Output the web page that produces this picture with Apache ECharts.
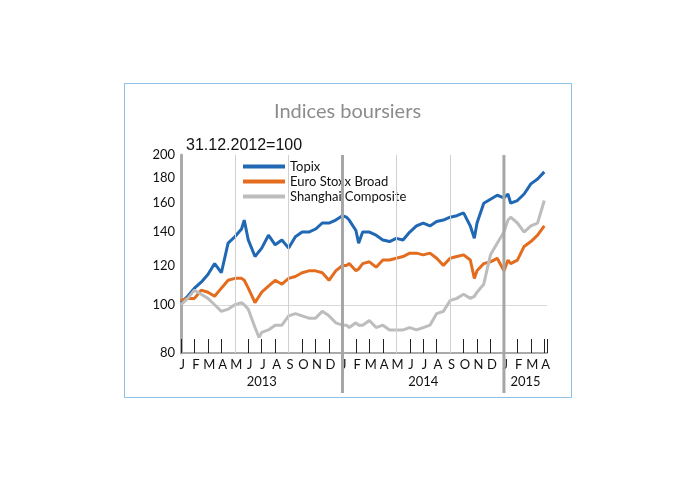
<!DOCTYPE html>
<html>
<head>
<meta charset="utf-8">
<script src="https://cdn.jsdelivr.net/npm/echarts@6/dist/echarts.min.js"></script>
<style>
body{margin:0;background:#fff;}
#box{position:absolute;left:124px;top:83px;width:446px;height:313px;border:1px solid #8fc3e6;}
#chart{position:absolute;left:0;top:0;width:695px;height:483px;}
</style>
</head>
<body>
<div id="box"></div>
<div id="chart"></div>
<script>
// time in months since 31.12.2012
var months = [0,0.5,1,1.5,2,2.5,3,3.5,4,4.5,4.7,5,5.5,5.8,6,6.5,7,7.5,8,8.5,9,9.5,10,10.5,11,11.5,12,12.3,12.5,13,13.2,13.5,14,14.5,15,15.5,16,16.5,17,17.5,18,18.5,19,19.5,20,20.5,21,21.5,21.8,22,22.5,23,23.5,24,24.3,24.5,25,25.5,26,26.5,27];
var topix = [101,104,108,111,115,121,116,133,137,142,148,135,125,128,130,138,132,135,130,137,140,140,142,146,146,148,151,150,148,141,133,140,140,138,135,134,136,135,140,144,146,144,147,148,150,151,153,144,136,146,160,163,166,164,167,160,162,167,175,179,185];
var euro = [102,103,103,107,106,104,108,112,113,113,112,108,101,104,106,109,112,110,113,114,116,117,117,116,112,117,120,120,121,117,118,121,122,119,123,123,124,125,127,127,126,127,124,120,124,125,126,123,113,117,121,122,124,117,123,121,123,131,134,138,144];
var shanghai = [100,103,107,105,103,100,97,98,100,101,100,98,90,86,88,89,91,91,95,96,95,94,94,97,95,92,91,91,90,92,91,91,93,90,91,89,89,89,90,89,90,91,96,97,102,103,105,103,104,106,110,126,133,140,148,150,146,140,144,146,162];
var monthLetters = ['J','F','M','A','M','J','J','A','S','O','N','D','J','F','M','A','M','J','J','A','S','O','N','D','J','F','M','A'];
var years = [{t:6,label:'2013'},{t:18,label:'2014'},{t:25.6,label:'2015'}];
var yTicks = [80,100,120,140,160,180,200];

function pts(v){ return months.map(function(t,i){ return [t, v[i]]; }); }

var chart = echarts.init(document.getElementById('chart'));
var font = 'Lato, "Open Sans", sans-serif';
var gridLines = [4,8,16,20].map(function(x){ return {xAxis:x, lineStyle:{color:'#d0d0d0',width:1,type:'solid'}}; });

chart.setOption({
	animation:false,
	title:[{text:'Indices boursiers',left:'center',top:97,textStyle:{color:'#8c8c8c',fontSize:20,fontWeight:'normal',fontFamily:font}},
		{text:'31.12.2012=100',left:181,top:133,textStyle:{color:'#111',fontSize:16,fontWeight:'normal',fontFamily:'Arial, Liberation Sans, sans-serif'}}],
	legend:{left:238,top:155,orient:'vertical',itemGap:2,itemWidth:42,itemHeight:4,icon:'rect',
		textStyle:{fontSize:13,color:'#111',fontFamily:font},
		data:['Topix','Euro Stoxx Broad','Shanghai Composite']},
	grid:{left:181,right:148,top:155,bottom:130},
	xAxis:{type:'value',min:0,max:27.2,interval:1,
		axisLine:{lineStyle:{color:'#aaa',width:2}},
		axisTick:{inside:true,length:14,lineStyle:{color:'#222',width:1}},
		axisLabel:{show:false},splitLine:{show:false}},
	yAxis:{type:'log',logBase:10,min:80,max:200,
		axisLine:{show:true,lineStyle:{color:'#aaa',width:3}},axisTick:{show:false},
		axisLabel:{fontSize:13,color:'#111',fontFamily:font,margin:6,customValues:yTicks},
		splitLine:{show:true,lineStyle:{color:'#d9d9d9'},showMinLine:false,showMaxLine:false}},
	series:[
		{name:'Topix',type:'line',data:pts(topix),symbol:'none',lineStyle:{color:'#2068b3',width:3},itemStyle:{color:'#2068b3'},
			markLine:{silent:true,symbol:'none',label:{show:false},data:gridLines}},
		{name:'Euro Stoxx Broad',type:'line',data:pts(euro),symbol:'none',lineStyle:{color:'#e46c1e',width:3},itemStyle:{color:'#e46c1e'}},
		{name:'Shanghai Composite',type:'line',data:pts(shanghai),symbol:'none',lineStyle:{color:'#bdbdbd',width:3},itemStyle:{color:'#bdbdbd'}}
	]
});

// year separators, month letters and year labels
var yTop = chart.convertToPixel({yAxisIndex:0}, 200);
var yBot = chart.convertToPixel({yAxisIndex:0}, 80);
var g = [];
[12,24].forEach(function(t){
	var x = chart.convertToPixel({xAxisIndex:0}, t);
	g.push({type:'line',shape:{x1:x,y1:yTop,x2:x,y2:yBot+40},style:{stroke:'#a6a6a6',lineWidth:3},z:5});
});
monthLetters.forEach(function(m,i){
	var x = chart.convertToPixel({xAxisIndex:0}, i+0.1);
	g.push({type:'text',x:x,y:yBot+5,style:{text:m,fill:'#111',font:'13px '+font,textAlign:'center'}});
});
years.forEach(function(y){
	var x = chart.convertToPixel({xAxisIndex:0}, y.t);
	g.push({type:'text',x:x,y:yBot+22,style:{text:y.label,fill:'#111',font:'13px '+font,textAlign:'center'}});
});
chart.setOption({graphic:g});
</script>
</body>
</html>
